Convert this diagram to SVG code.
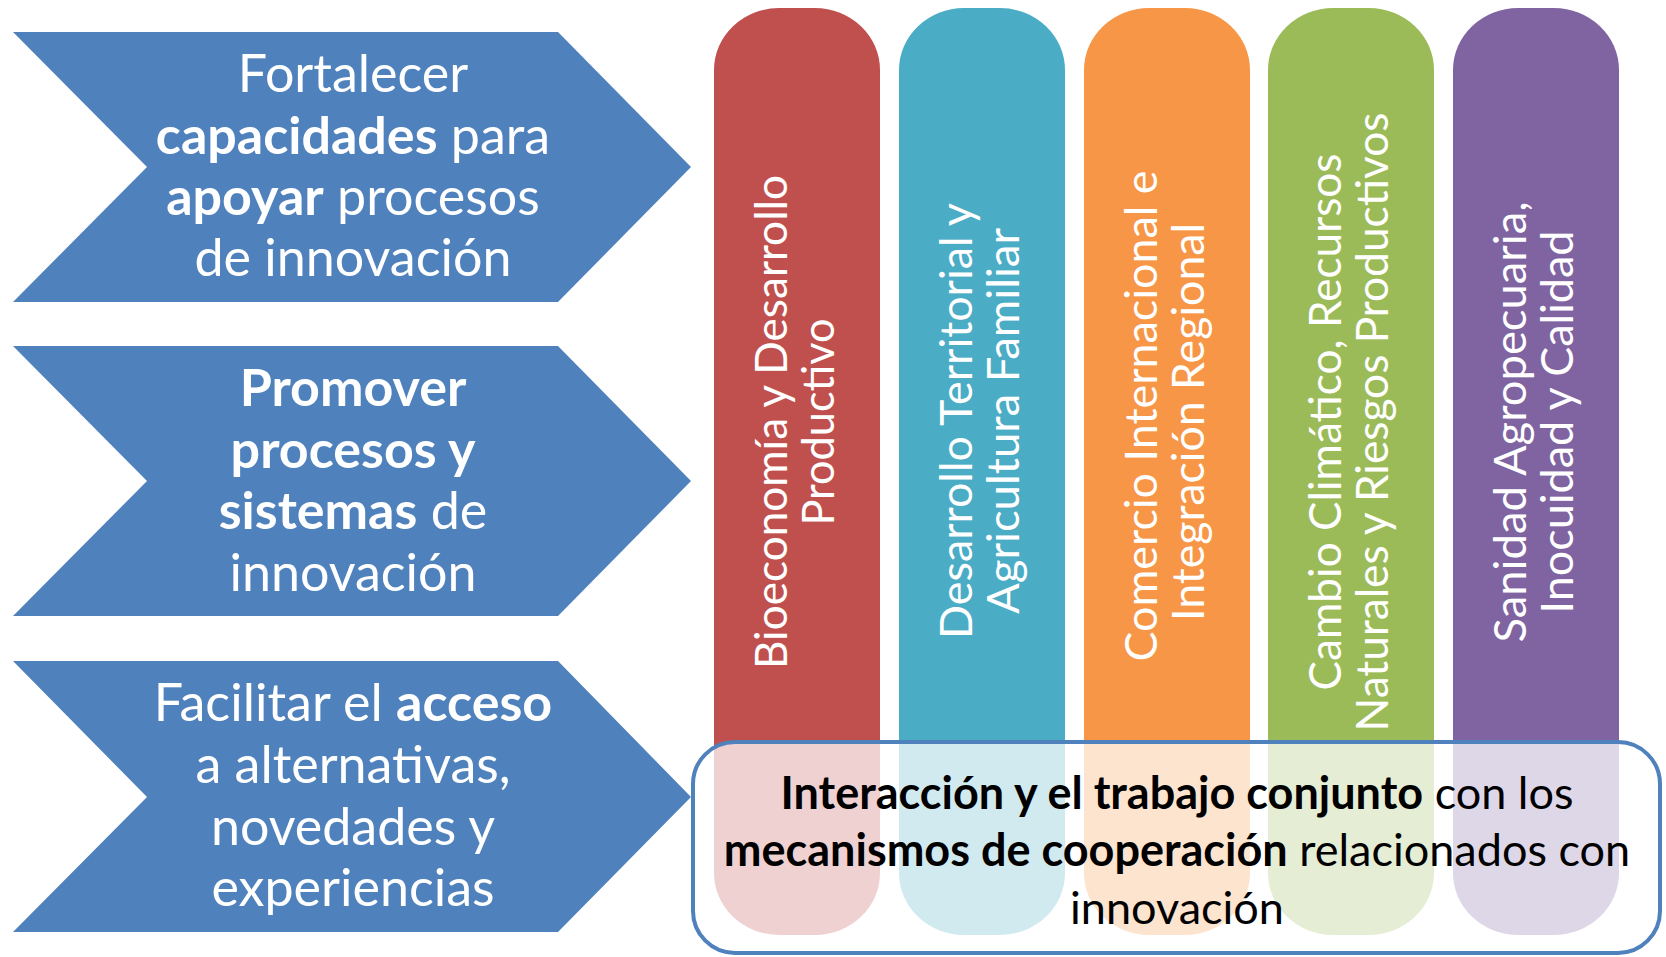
<svg xmlns="http://www.w3.org/2000/svg" width="1666" height="957" viewBox="0 0 1666 957">
<style>
.chev{fill:#4F81BD}
.ct{font-family:Lato,"Liberation Sans",sans-serif;font-size:52px;fill:#fff;text-anchor:middle}
.pt{font-family:Lato,"Liberation Sans",sans-serif;font-size:45px;fill:#fff;text-anchor:middle}
.bt{font-family:Lato,"Liberation Sans",sans-serif;font-size:45px;fill:#000;text-anchor:middle}
.b{font-weight:bold}
</style>
<rect width="1666" height="957" fill="#fff"/>
<g id="chevron1">
<polygon class="chev" points="13,32 558,32 691,167 558,302 13,302 147,167"/>
<text class="ct"><tspan x="353" y="92">Fortalecer</tspan><tspan x="353" y="154"><tspan class="b">capacidades</tspan> para</tspan><tspan x="353" y="215"><tspan class="b">apoyar</tspan> procesos</tspan><tspan x="353" y="276">de innovación</tspan></text>
</g>
<g id="chevron2">
<polygon class="chev" points="13,346 558,346 691,481 558,616 13,616 147,481"/>
<text class="ct"><tspan x="353" y="406" class="b">Promover</tspan><tspan x="353" y="468" class="b">procesos y</tspan><tspan x="353" y="529"><tspan class="b">sistemas</tspan> de</tspan><tspan x="353" y="591">innovación</tspan></text>
</g>
<g id="chevron3">
<polygon class="chev" points="13,661 558,661 691,797 558,932 13,932 147,797"/>
<text class="ct"><tspan x="353" y="721">Facilitar el <tspan class="b">acceso</tspan></tspan><tspan x="353" y="783">a alternativas,</tspan><tspan x="353" y="845">novedades y</tspan><tspan x="353" y="906">experiencias</tspan></text>
</g>
<g id="pillar1">
<rect x="714" y="8" width="166" height="927" rx="65" ry="62" fill="#C0504D"/>
<g transform="translate(797,422) rotate(-90)">
<text class="pt" x="0" y="-10" textLength="494" lengthAdjust="spacingAndGlyphs">Bioeconomía y Desarrollo</text>
<text class="pt" x="0" y="37" textLength="207" lengthAdjust="spacingAndGlyphs">Productivo</text>
</g>
</g>
<g id="pillar2">
<rect x="899" y="8" width="166" height="927" rx="65" ry="62" fill="#4BACC6"/>
<g transform="translate(982,421) rotate(-90)">
<text class="pt" x="0" y="-10" textLength="436" lengthAdjust="spacingAndGlyphs">Desarrollo Territorial y</text>
<text class="pt" x="0" y="37" textLength="386" lengthAdjust="spacingAndGlyphs">Agricultura Familiar</text>
</g>
</g>
<g id="pillar3">
<rect x="1084" y="8" width="166" height="927" rx="65" ry="62" fill="#F79646"/>
<g transform="translate(1167,420) rotate(-90)">
<text class="pt" x="4" y="-10" textLength="491" lengthAdjust="spacingAndGlyphs">Comercio Internacional e</text>
<text class="pt" x="-2" y="37" textLength="398" lengthAdjust="spacingAndGlyphs">Integración Regional</text>
</g>
</g>
<g id="pillar4">
<rect x="1268" y="8" width="166" height="927" rx="65" ry="62" fill="#9BBB59"/>
<g transform="translate(1351,422) rotate(-90)">
<text class="pt" x="0" y="-10" textLength="537" lengthAdjust="spacingAndGlyphs">Cambio Climático, Recursos</text>
<text class="pt" x="0" y="37" textLength="619" lengthAdjust="spacingAndGlyphs">Naturales y Riesgos Productivos</text>
</g>
</g>
<g id="pillar5">
<rect x="1453" y="8" width="166" height="927" rx="65" ry="62" fill="#8064A2"/>
<g transform="translate(1536,422) rotate(-90)">
<text class="pt" x="0" y="-10" textLength="441" lengthAdjust="spacingAndGlyphs">Sanidad Agropecuaria,</text>
<text class="pt" x="0" y="37" textLength="383" lengthAdjust="spacingAndGlyphs">Inocuidad y Calidad</text>
</g>
</g>
<g id="box">
<rect x="693" y="742" width="967" height="211" rx="42" ry="42" fill="#fff" fill-opacity="0.74" stroke="#4F81BD" stroke-width="4"/>
<text class="bt"><tspan x="1177" y="809"><tspan class="b">Interacción y el trabajo conjunto</tspan> con los</tspan><tspan x="1177" y="866"><tspan class="b">mecanismos de cooperación</tspan> relacionados con</tspan><tspan x="1177" y="924">innovación</tspan></text>
</g>
<g id="connectors"></g>
</svg>
